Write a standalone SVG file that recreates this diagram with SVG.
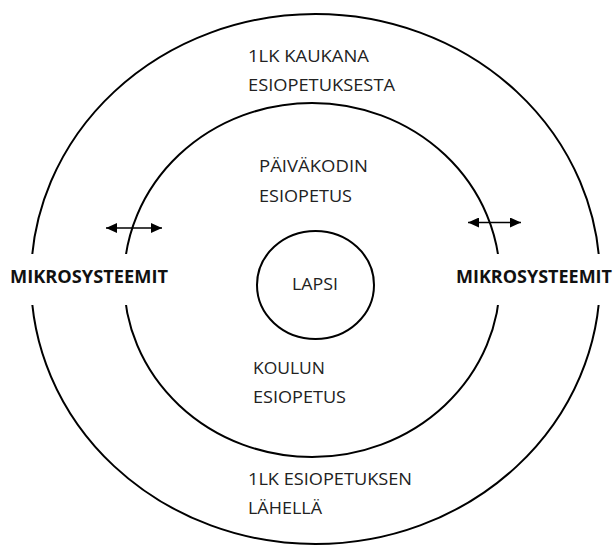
<svg xmlns="http://www.w3.org/2000/svg" width="613" height="547" viewBox="0 0 613 547">
<style>
.ring{fill:none;stroke:#000;stroke-width:2}
.lbl{font-family:"Open Sans","Liberation Sans",sans-serif;font-size:16.5px;fill:#222}
.mk{font-family:"Open Sans","Liberation Sans",sans-serif;font-size:17.5px;font-weight:bold;fill:#111}
.arr{fill:none;stroke:#000;stroke-width:1.3;marker-start:url(#ah);marker-end:url(#ah)}
.bg{fill:#fff}
</style>
<defs>
<marker id="ah" viewBox="0 0 11 10" refX="11" refY="5" markerWidth="11" markerHeight="10" markerUnits="userSpaceOnUse" orient="auto-start-reverse">
<path d="M0,0 L11,5 L0,10 z" fill="#000"/>
</marker>
</defs>
<rect width="613" height="547" fill="#fff"/>
<g id="outer">
<ellipse class="ring" cx="315.5" cy="279" rx="284.5" ry="265"/>
<text class="lbl" x="248" y="62" textLength="121" lengthAdjust="spacingAndGlyphs">1LK KAUKANA</text>
<text class="lbl" x="248" y="91" textLength="147" lengthAdjust="spacingAndGlyphs">ESIOPETUKSESTA</text>
<text class="lbl" x="248" y="485" textLength="164" lengthAdjust="spacingAndGlyphs">1LK ESIOPETUKSEN</text>
<text class="lbl" x="248" y="514" textLength="74" lengthAdjust="spacingAndGlyphs">LÄHELLÄ</text>
</g>
<g id="inner">
<ellipse class="ring" cx="312" cy="280" rx="188" ry="177"/>
<text class="lbl" x="259" y="172" textLength="109" lengthAdjust="spacingAndGlyphs">PÄIVÄKODIN</text>
<text class="lbl" x="259" y="202" textLength="93" lengthAdjust="spacingAndGlyphs">ESIOPETUS</text>
<text class="lbl" x="253" y="374" textLength="72" lengthAdjust="spacingAndGlyphs">KOULUN</text>
<text class="lbl" x="253" y="403" textLength="93" lengthAdjust="spacingAndGlyphs">ESIOPETUS</text>
</g>
<g id="lapsi">
<ellipse class="ring" cx="315.5" cy="285" rx="58.5" ry="54"/>
<text class="lbl" x="292" y="290" textLength="46" lengthAdjust="spacingAndGlyphs">LAPSI</text>
</g>
<g id="mikro-left">
<rect class="bg" x="0" y="254" width="175" height="51"/>
<text class="mk" x="10" y="283" textLength="158" lengthAdjust="spacingAndGlyphs">MIKROSYSTEEMIT</text>
</g>
<g id="mikro-right">
<rect class="bg" x="450" y="254" width="163" height="51"/>
<text class="mk" x="456" y="283" textLength="156" lengthAdjust="spacingAndGlyphs">MIKROSYSTEEMIT</text>
</g>
<g id="connectors">
<line class="arr" x1="106" y1="228" x2="162" y2="228"/>
<line class="arr" x1="468" y1="222.5" x2="521" y2="222.5"/>
</g>
</svg>
